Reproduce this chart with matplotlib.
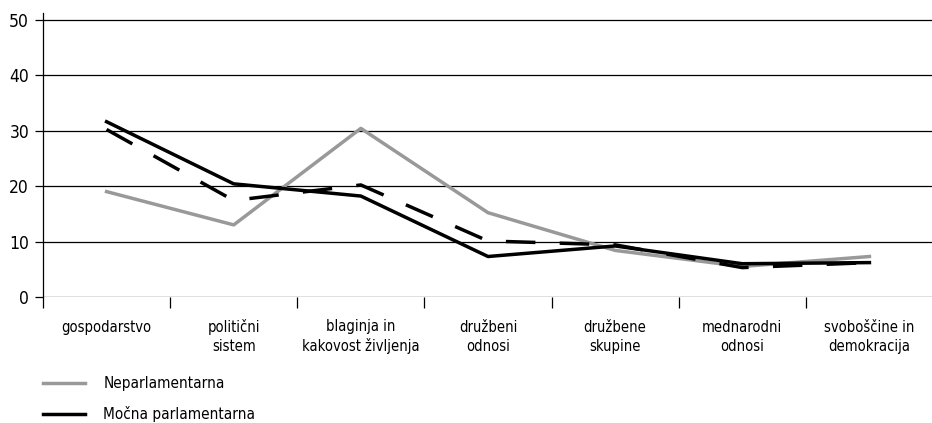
import numpy as np
from matplotlib import pyplot as plt

kategorije = ['gospodarstvo\n', 'politični\nsistem', 'blaginja in\nkakovost življenja',
              'družbeni\nodnosi', 'družbene\nskupine', 'mednarodni\nodnosi',
              'svoboščine in\ndemokracija']
neparlamentarna = [19.0, 13.0, 30.4, 15.2, 8.4, 5.5, 7.3]
mocna_parlamentarna = [31.6, 20.4, 18.2, 7.3, 9.2, 6.0, 6.2]
druga_parlamentarna = [30.2, 17.4, 20.2, 10.1, 9.4, 5.3, 6.2]

plt.rcParams['font.family'] = ['DejaVu Sans']
plt.rcParams['font.stretch'] = 'condensed'

fig = plt.figure(figsize=(9.32, 4.23), dpi=100)
ax = fig.add_axes([43 / 932, 1 - 297 / 423, 890 / 932, 284 / 423])

x = np.arange(len(kategorije))
ax.plot(x, neparlamentarna, color='#999999', lw=2.5, label='Neparlamentarna', zorder=3)
ax.plot(x, mocna_parlamentarna, color='black', lw=2.5, label='Močna parlamentarna', zorder=4)
ax.plot(x, druga_parlamentarna, color='black', lw=2.5, dashes=(8.5, 7), zorder=4)

ax.set_xlim(-0.5, len(kategorije) - 0.5)
ax.set_ylim(0, 51.2)
ax.set_yticks(range(0, 51, 10))
for v in range(0, 51, 10):
    ax.axhline(v, color='black', lw=0.9, zorder=1)

ax.set_xticks(np.arange(-0.5, len(kategorije) - 0.5, 1))
ax.set_xticklabels([])
ax.set_xticks(x, minor=True)
ax.set_xticklabels(kategorije, minor=True, fontsize=10.5, linespacing=1.3)
ax.tick_params(axis='x', which='minor', length=0, pad=38.9)
ax.tick_params(axis='x', which='major', length=8, width=0.9, direction='out')
ax.tick_params(axis='y', length=6, width=0.9, labelsize=12.5, pad=4)
for t in ax.get_xticklabels(minor=True):
    t.set_verticalalignment('baseline')

for s in ['top', 'right', 'bottom']:
    ax.spines[s].set_visible(False)
ax.spines['left'].set_linewidth(0.9)

fig.legend(loc='upper left', bbox_to_anchor=(37 / 932, 1 - 370 / 423), frameon=False,
           fontsize=11, handlelength=2.75, labelspacing=1.0, handletextpad=1.18,
           borderaxespad=0)

plt.savefig('out.png', dpi=100)
